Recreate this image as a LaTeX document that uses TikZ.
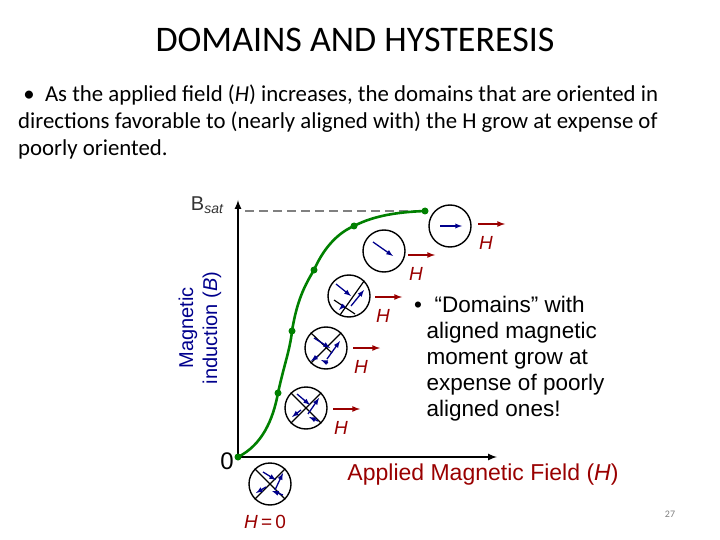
\documentclass[tikz,border=0pt]{standalone}
\usepackage{fontspec}
\setmainfont{Carlito}
\newfontfamily\arial{Liberation Sans}
\begin{document}
\begin{tikzpicture}[x=1pt,y=-1pt,
 dom/.style={draw,line width=1.4pt,circle,minimum size=42pt,inner sep=0},
 mom/.style={-latex,draw=blue!55!black,line width=1.3pt},
 hf/.style={-latex,draw=red!60!black,line width=1.6pt},
 hl/.style={font=\arial\itshape\fontsize{19}{22}\selectfont,text=red!60!black},
 dot/.style={circle,fill=green!50!black,inner sep=0,minimum size=7pt}]
\useasboundingbox (0,0) rectangle (720,540);
\node (title) at (355,40) {\fontsize{36}{40}\selectfont DOMAINS AND HYSTERESIS};
\node[anchor=north west,align=left,inner sep=0,font=\fontsize{22.8}{27}\selectfont] (txt) at (18,85)
 {\ \textbullet\ \ As the applied field (\textit{H}) increases, the domains that are oriented in\\directions favorable to (nearly aligned with) the H grow at expense of\\poorly oriented.};
% axes
\coordinate (O) at (238,457);
\coordinate (Y) at (238,200);
\coordinate (X) at (497,457);
\draw[line width=2pt,-latex] (O) -- (Y);
\draw[line width=2pt,-latex] (O) -- (X);
\node[font=\arial\fontsize{20}{24}\selectfont,anchor=east] (bs) at (227,205) {\textcolor{black!80}{B\textsubscript{\itshape sat}}};
\coordinate (d1) at (245,211);
\draw[dashed,line width=2pt,gray,dash pattern=on 9pt off 5pt] (d1) -- (425,211);
\node[font=\arial\fontsize{20}{24}\selectfont,text=blue!55!black,rotate=90,align=center] (ylab) at (200,328) {Magnetic\\induction (\textit{B})};
\node[font=\arial\fontsize{24}{28}\selectfont] (zero) at (227,461) {0};
\node[font=\arial\fontsize{23}{26}\selectfont,text=red!60!black] (xlab) at (483,475) {Applied Magnetic Field (\textit{H})};
% curve
\node[dot] (p0) at (238,457) {};
\node[dot] (p1) at (278,393) {};
\node[dot] (p2) at (292,331) {};
\node[dot] (p3) at (314,270) {};
\node[dot] (p4) at (354,226) {};
\node[dot] (p5) at (425,211) {};
\draw[green!50!black,line width=2.6pt] (p0.center) .. controls (262,445) and (273,420) .. (p1.center)
 .. controls (284,365) and (290,350) .. (p2.center) .. controls (297,300) and (305,285) .. (p3.center)
 .. controls (325,245) and (340,232) .. (p4.center) .. controls (375,215) and (400,212) .. (p5.center);
% H=0 domain
\node[dom] (c0) at (270,484) {};
\draw[line width=1.2pt] (c0.north west) -- (c0.south east) (c0.north east) -- (c0.south west);
\draw[mom] (263,472) -- (276,480);
\draw[mom] (275,490) -- (283,473);
\draw[mom] (266,487) -- (256,493);
\draw[mom] (283,495) -- (272,491);
\node[font=\arial\fontsize{19}{22}\selectfont,text=red!60!black] (h0) at (265,522) {\textit{H}\,=\,0};
% domain 1
\node[dom] (c1) at (306,408) {};
\draw[line width=1.2pt] (c1.north west) -- (c1.south east) (c1.north east) -- (c1.south west);
\draw[mom] (297,394) -- (310,405);
\draw[mom] (308,414) -- (319,398);
\draw[mom] (301,410) -- (292,417);
\draw[mom] (318,421) -- (309,417);
% domain 2
\node[dom] (c2) at (326,348) {};
\draw[line width=1.2pt] (c2.north west) -- (332,353) (c2.north east) -- (c2.south west);
\draw[mom] (314,338) -- (330,348);
\draw[mom] (327,359) -- (340,341);
\draw[mom] (318,356) -- (311,361);
\draw[mom] (328,363) -- (321,360);
% domain 3
\node[dom] (c3) at (349,296) {};
\draw[line width=1.2pt] (334,300) -- (355,314) (c3.north east) -- (340,315);
\draw[mom] (336,284) -- (351,296);
\draw[mom] (351,306) -- (364,290);
\draw[mom] (344,305) -- (339,310);
% domain 4,5
\node[dom] (c4) at (384,251) {};
\draw[mom] (373,242) -- (393,256);
\node[dom] (c5) at (450,226) {};
\draw[mom] (440,226) -- (462,226);
% field arrows
\foreach \n/\x/\y in {1/333/409,2/353/348,3/375/297,4/408/255,5/478/224}{
 \coordinate (a\n) at (\x,\y);
 \coordinate (b\n) at (\x+27,\y);
 \draw[hf] (a\n) -- (b\n);
 \node[hl] (h\n) at (\x+8,\y+19) {H};
}
\node[font=\arial\fontsize{22.5}{26}\selectfont,align=left,anchor=north west,inner sep=0] (note) at (414,296)
 {\textbullet\ \ \textquotedblleft Domains\textquotedblright\ with\\\ \ aligned magnetic\\\ \ moment grow at\\\ \ expense of poorly\\\ \ aligned ones!};
\node[font=\fontsize{10}{12}\selectfont,text=gray] (pg) at (670,514) {27};
\end{tikzpicture}
\end{document}
